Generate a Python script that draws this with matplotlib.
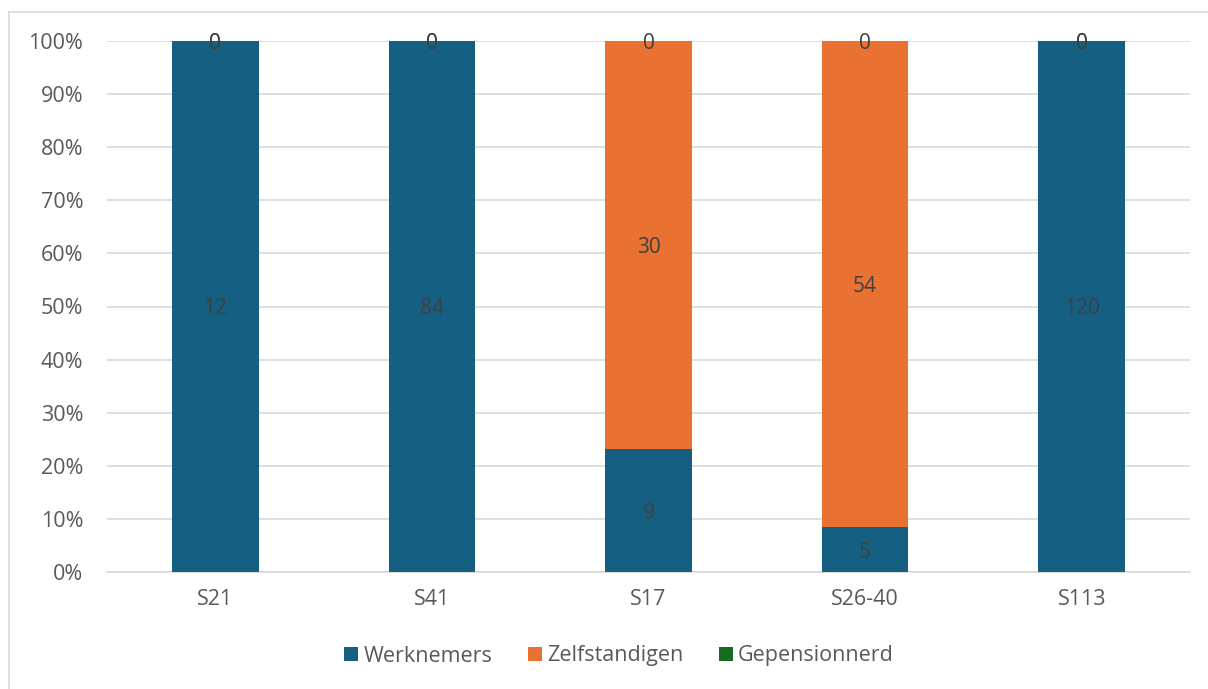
import matplotlib
matplotlib.use("Agg")
import matplotlib.pyplot as plt
import numpy as np
from matplotlib.lines import Line2D

categories = ["S21", "S41", "S17", "S26-40", "S113"]
werknemers = [12, 84, 9, 5, 120]
zelfstandigen = [0, 0, 30, 54, 0]
gepensionnerd = [0, 0, 0, 0, 0]
series_names = ["Werknemers", "Zelfstandigen", "Gepensionnerd"]
colors = ["#156082", "#E97132", "#196B24"]
y_ticks = [0, 10, 20, 30, 40, 50, 60, 70, 80, 90, 100]

plt.rcParams['font.family'] = ['Open Sans', 'DejaVu Sans']
text_col = "#595959"
lab_col = "#404040"

W, H = 1208, 689
fig = plt.figure(figsize=(W / 100, H / 100), dpi=100)
# outer chart border (only top and left visible in the reference)
bx, by = 8.5 / W, 1 - 11.5 / H
fig.lines.append(Line2D([bx, 1.0], [by, by], transform=fig.transFigure, color="#D9D9D9", lw=1.2))
fig.lines.append(Line2D([bx, bx], [0.0, by], transform=fig.transFigure, color="#D9D9D9", lw=1.2))

ax = fig.add_axes([107 / W, (H - 572) / H, (1190 - 107) / W, (572 - 41) / H])

data = np.array([werknemers, zelfstandigen, gepensionnerd], dtype=float)
totals = data.sum(axis=0)
pct = data / totals * 100
x = np.arange(len(categories))
bottom = np.zeros(len(categories))
for i, name in enumerate(series_names):
    ax.bar(x, pct[i], bottom=bottom, width=0.4, color=colors[i], label=name, zorder=2)
    for j in range(len(categories)):
        ax.text(x[j], bottom[j] + pct[i][j] / 2, f"{int(data[i][j])}",
                ha="center", va="center_baseline", fontsize=15, color=lab_col, zorder=3)
    bottom += pct[i]

ax.set_xlim(-0.5, len(categories) - 0.5)
ax.set_ylim(0, 100)
ax.set_yticks(y_ticks)
ax.set_yticklabels([f"{t}%" for t in y_ticks])
ax.set_xticks(x)
ax.set_xticklabels(categories)
ax.tick_params(axis="both", length=0, labelsize=15.5, labelcolor=text_col)
ax.tick_params(axis="y", pad=17)
ax.tick_params(axis="x", pad=12)
ax.grid(axis="y", color="#D9D9D9", linewidth=1.2, zorder=0)
for s in ["top", "right", "left"]:
    ax.spines[s].set_visible(False)
ax.spines["bottom"].set_color("#D9D9D9")
ax.spines["bottom"].set_linewidth(1.2)
ax.spines["bottom"].set_zorder(1)

handles, labels = ax.get_legend_handles_labels()
fig.legend(handles, labels, loc="center", bbox_to_anchor=(619 / W, 1 - 656 / H), ncol=3,
           frameon=False, fontsize=15.5, labelcolor=text_col, handlelength=0.65,
           handleheight=0.65, handletextpad=0.25, columnspacing=1.65)

fig.savefig("out.png", dpi=100)
